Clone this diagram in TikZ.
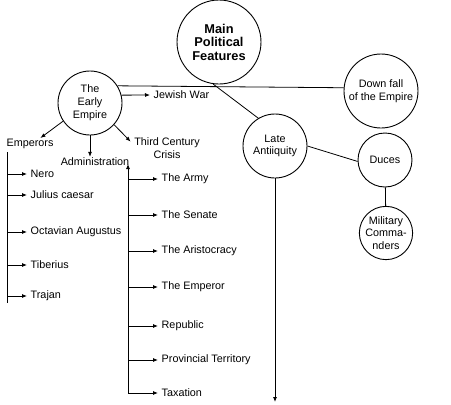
\documentclass[tikz,border=0pt]{standalone}
\usepackage{fontspec}
\setmainfont{Liberation Sans}
\usetikzlibrary{arrows.meta}
\begin{document}
\begin{tikzpicture}[x=1pt,y=-1pt,
  circ/.style={draw,circle,line width=0.9pt,inner sep=0pt,align=center,font=\fontsize{10.8}{12.8}\selectfont},
  lbl/.style={inner xsep=3.5pt,inner ysep=1pt,font=\fontsize{10.8}{12.8}\selectfont},
  arr/.style={-{Latex[length=5pt,width=4pt]},line width=0.8pt},
  ln/.style={line width=0.8pt}]
\useasboundingbox (0,0) rectangle (451,405);

% circles
\node[circ,minimum size=84pt,font=\bfseries\fontsize{12.8}{13.5}\selectfont] (main) at (219,42) {Main\\Political\\Features};
\node[circ,minimum size=64pt] (early) at (90,103) {The\\Early\\Empire};
\node[circ,minimum size=74pt] (down) at (381,91) {Down fall\\of the Empire};
\node[circ,minimum size=64pt] (late) at (275,146) {Late\\Antiiquity};
\node[circ,minimum size=54pt] (duces) at (385,160) {Duces};
\node[circ,minimum size=53pt] (mil) at (386,233) {Military\\Comma-\\nders};

% circle links
\draw[ln] (early.32) -- (down.175);
\draw[ln] (main.262) -- (late.121);
\draw[ln] (late.0) -- (duces.183);
\draw[ln] (duces) -- (mil);
\coordinate (lend) at (275,402);
\draw[arr] (late.south) -- (lend);

% first level labels
\node[lbl,anchor=west] (jewish) at (150,95) {Jewish War};
\draw[arr] (early.14) -- (jewish.west);
\node[lbl] (emperors) at (30,144) {Emperors};
\draw[arr] (early.214) -- (emperors.30);
\node[lbl] (admin) at (95,162) {Administration};
\draw[arr] (early.south) -- (early.south |- admin.north);
\node[lbl,align=center] (third) at (167,148) {Third Century\\Crisis};
\draw[arr] (early.318) -- (third.170);

% Emperors tree
\coordinate (etop) at (7,152);
\coordinate (ebot) at (7,303);
\draw[ln] (etop) -- (ebot);
\foreach \nm/\t/\y in {nero/Nero/174, julius/Julius caesar/195, octavian/Octavian Augustus/232, tiberius/Tiberius/265, trajan/Trajan/296}{
  \node[lbl,anchor=west] (\nm) at (27,\y) {\t};
  \draw[arr] (etop |- \nm.west) -- (\nm.west);
}

% Administration tree
\coordinate (atop) at (128,164);
\coordinate (abot) at (128,393);
\draw[arr] (abot) -- (atop);
\foreach \nm/\t/\y in {army/The Army/179, senate/The Senate/215, aristo/The Aristocracy/251, emperor/The Emperor/287, republic/Republic/326, prov/Provincial Territory/360, tax/Taxation/393}{
  \node[lbl,anchor=west] (\nm) at (158,\y) {\t};
  \draw[arr] (atop |- \nm.west) -- (\nm.west);
}
\end{tikzpicture}
\end{document}
